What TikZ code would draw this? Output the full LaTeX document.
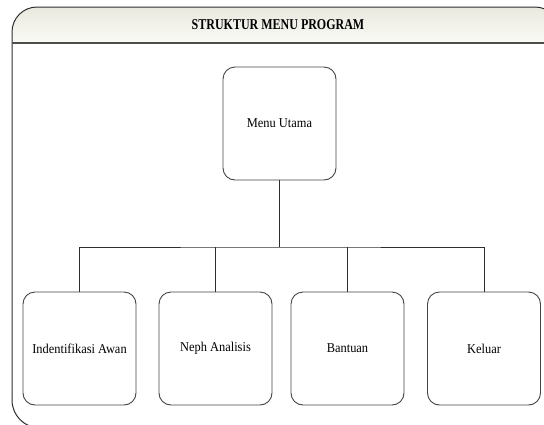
\documentclass[tikz,border=0pt]{standalone}
\usepackage{fontspec}
\usepackage{graphicx}
\setmainfont{Liberation Serif}
\definecolor{framec}{HTML}{2E2E2E}
\definecolor{boxc}{HTML}{444444}
\definecolor{hdrtop}{HTML}{E9E9DF}
\definecolor{hdrbot}{HTML}{FAFAF6}
\tikzset{
  menubox/.style={draw=boxc, line width=0.9pt, rounded corners=12pt, minimum width=113pt, minimum height=113pt, inner sep=0pt, fill=white,
    font=\fontsize{13.5}{16}\selectfont},
  wire/.style={draw=framec, line width=0.9pt},
}
\newcommand{\sq}[1]{\scalebox{0.92}[1]{#1}}
\begin{document}
\begin{tikzpicture}[x=1pt,y=-1pt]
\useasboundingbox (0,0) rectangle (544,424);
\begin{scope}
\clip (0,0) rectangle (544,424);
% header fill
\shade[top color=hdrtop, bottom color=hdrbot]
  (12,43) -- (12,32) arc[start angle=180,end angle=90,x radius=25,y radius=-25] -- (535,7)
  arc[start angle=90,end angle=0,x radius=25,y radius=-25] -- (560,43) -- cycle;
% frame
\draw[framec, line width=1pt, rounded corners=0pt]
  (12,400) -- (12,32) arc[start angle=180,end angle=90,x radius=25,y radius=-25] -- (535,7)
  arc[start angle=90,end angle=0,x radius=25,y radius=-25] -- (560,428);
\draw[framec, line width=1pt] (12,400) arc[start angle=180,end angle=270,x radius=28,y radius=-28] -- (560,428);
\draw[draw=black!70, line width=1.6pt] (12,43) -- (560,43);
\end{scope}
\node (title) at (278,25) {\fontsize{15}{18}\selectfont\bfseries\scalebox{0.8}[1]{STRUKTUR MENU PROGRAM}};
\node[menubox] (mu) at (279.5,123.5) {\sq{Menu Utama}};
\node[menubox] (b1) at (79.5,348.5) {\sq{Indentifikasi Awan}};
\node[menubox] (b2) at (215.5,348.5) {\sq{Neph Analisis}};
\node[menubox] (b3) at (347.5,348.5) {\sq{Bantuan}};
\node[menubox] (b4) at (484,348.5) {\sq{Keluar}};
\coordinate (j) at (279.5,247);
\draw[wire] (mu.south) -- (j);
\draw[wire] (b1.north) |- (j) -| (b4.north);
\draw[wire] (b2.north) -- (b2.north |- j);
\draw[wire] (b3.north) -- (b3.north |- j);
\end{tikzpicture}
\end{document}
